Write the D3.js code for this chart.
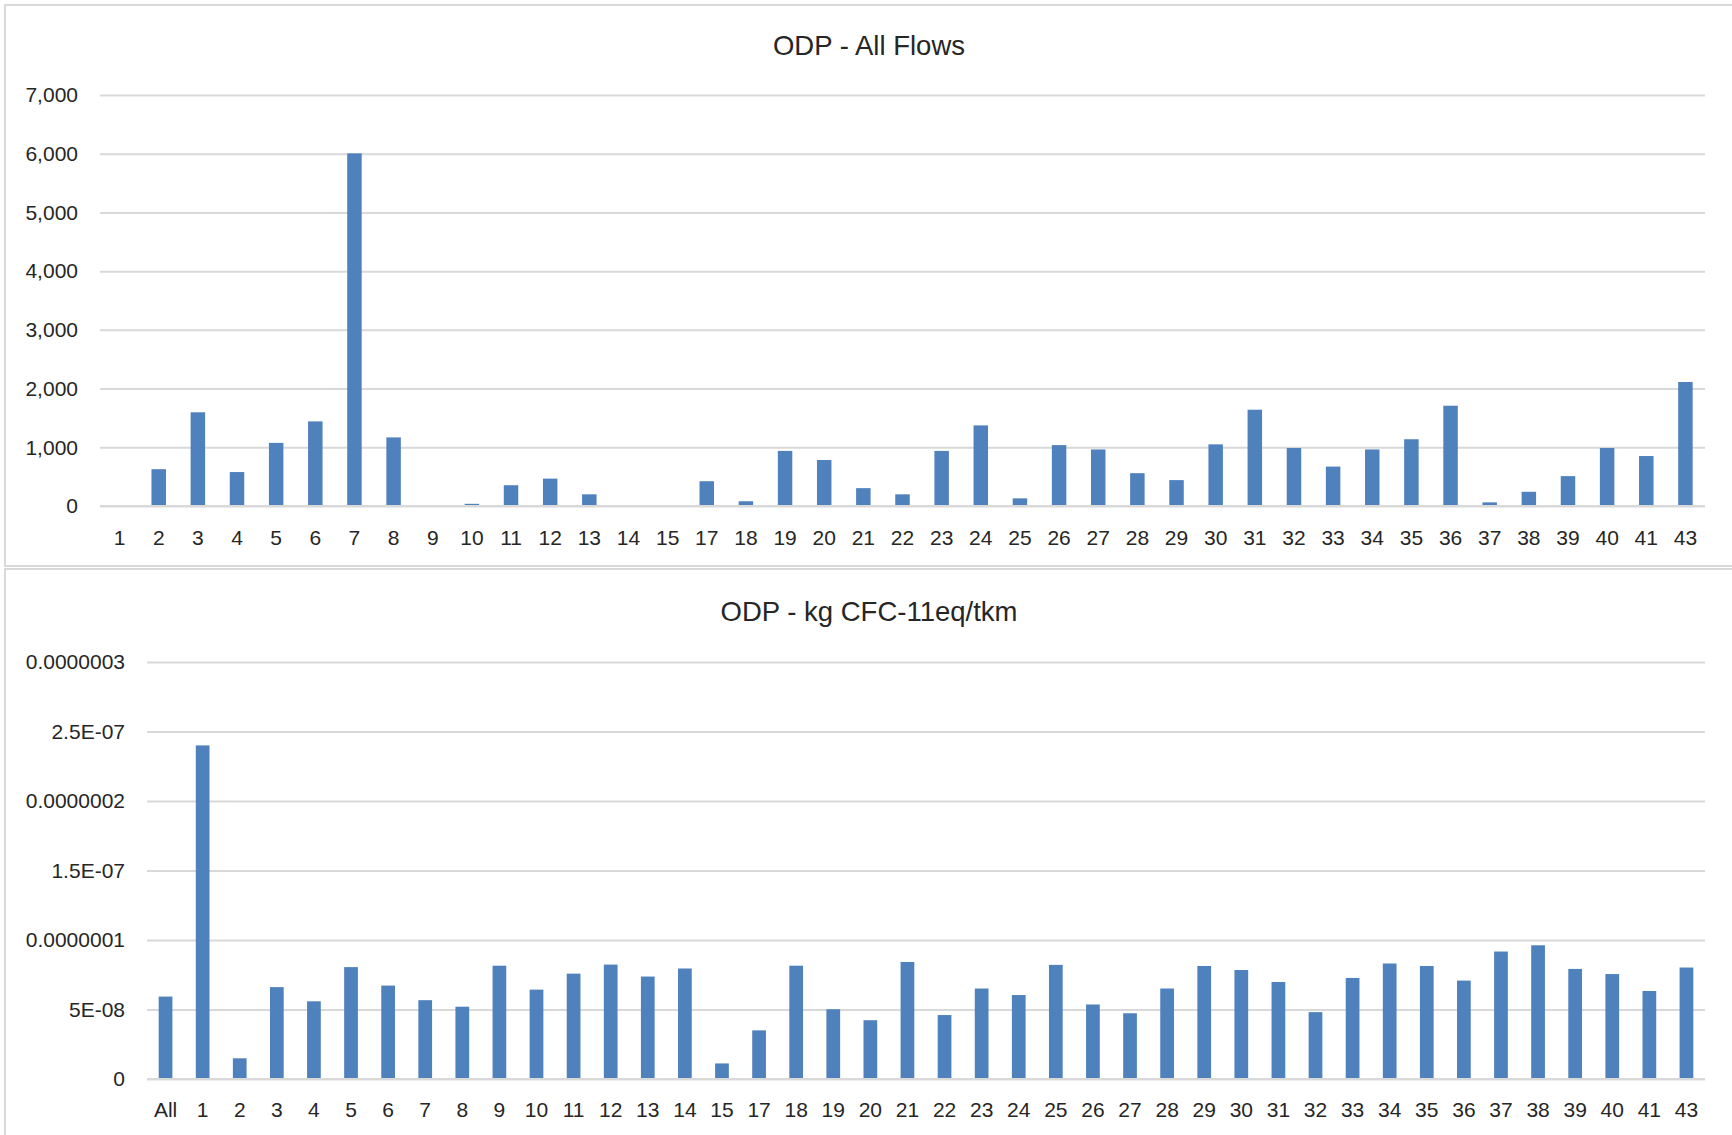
<!DOCTYPE html>
<html>
<head>
<meta charset="utf-8">
<script src="https://cdn.jsdelivr.net/npm/d3@7"></script>
<style>
  html, body { margin: 0; padding: 0; background: #fff; }
  svg { display: block; }
  text { font-family: "Liberation Sans", Arial, sans-serif; fill: #262626; }
</style>
</head>
<body>
<svg id="chart" width="1732" height="1135"></svg>
<script>
// ---- Data ----
const topCategories = ["1","2","3","4","5","6","7","8","9","10","11","12","13","14","15","17","18","19","20","21","22","23","24","25","26","27","28","29","30","31","32","33","34","35","36","37","38","39","40","41","43"];
const topValues = [0,627,1596,578,1075,1441,6006,1168,0,37,354,466,199,0,0,422,81,938,783,304,199,938,1373,130,1037,963,559,441,1050,1640,988,671,963,1137,1708,62,242,509,988,851,2112];
const topTicks = [0,1000,2000,3000,4000,5000,6000,7000];
const topTickLabels = ["0","1,000","2,000","3,000","4,000","5,000","6,000","7,000"];
const topTitle = "ODP - All Flows";

const bottomCategories = ["All","1","2","3","4","5","6","7","8","9","10","11","12","13","14","15","17","18","19","20","21","22","23","24","25","26","27","28","29","30","31","32","33","34","35","36","37","38","39","40","41","43"];
const bottomValues = [5.93e-8,2.40e-7,1.49e-8,6.61e-8,5.59e-8,8.05e-8,6.72e-8,5.67e-8,5.20e-8,8.15e-8,6.43e-8,7.58e-8,8.23e-8,7.37e-8,7.95e-8,1.12e-8,3.50e-8,8.15e-8,5.02e-8,4.23e-8,8.42e-8,4.60e-8,6.51e-8,6.04e-8,8.21e-8,5.36e-8,4.73e-8,6.51e-8,8.13e-8,7.84e-8,6.98e-8,4.81e-8,7.27e-8,8.31e-8,8.13e-8,7.08e-8,9.17e-8,9.62e-8,7.92e-8,7.55e-8,6.33e-8,8.02e-8];
const bottomTicks = [0,5e-8,1e-7,1.5e-7,2e-7,2.5e-7,3e-7];
const bottomTickLabels = ["0","5E-08","0.0000001","1.5E-07","0.0000002","2.5E-07","0.0000003"];
const bottomTitle = "ODP - kg CFC-11eq/tkm";

const svg = d3.select("#chart");
const barColor = "#4f81bd";
const gridColor = "#d9d9d9";

function drawPanel(cfg) {
  const g = svg.append("g");
  // frame
  g.append("rect")
    .attr("x", cfg.frame[0]).attr("y", cfg.frame[1])
    .attr("width", cfg.frame[2]).attr("height", cfg.frame[3])
    .attr("fill", "#fff").attr("stroke", gridColor).attr("stroke-width", 2);

  const x = d3.scaleBand().domain(cfg.categories)
    .range([cfg.left, cfg.right]).paddingInner(0.63).paddingOuter(0.315);
  const y = d3.scaleLinear().domain([0, cfg.ticks[cfg.ticks.length - 1]])
    .range([cfg.bottom, cfg.top]);

  // gridlines
  const yAxis = d3.axisLeft(y).tickValues(cfg.ticks)
    .tickSize(-(cfg.right - cfg.left))
    .tickFormat((d, i) => cfg.tickLabels[i]).tickPadding(cfg.tickPad);
  const ya = g.append("g").attr("transform", `translate(${cfg.left},0)`).call(yAxis);
  ya.select(".domain").remove();
  ya.selectAll(".tick line").attr("stroke", gridColor).attr("stroke-width", 2);
  ya.selectAll(".tick text").attr("font-size", 21).attr("fill", "#262626")
    .style("font-family", '"Liberation Sans", Arial, sans-serif');

  // bars
  g.append("g").selectAll("rect").data(cfg.values).join("rect")
    .attr("x", (d, i) => x(cfg.categories[i]))
    .attr("width", x.bandwidth())
    .attr("y", d => y(d))
    .attr("height", d => y(0) - y(d))
    .attr("fill", barColor);

  // baseline redraw over bars
  g.append("line").attr("x1", cfg.left).attr("x2", cfg.right)
    .attr("y1", y(0)).attr("y2", y(0)).attr("stroke", gridColor).attr("stroke-width", 2);

  // x labels
  const xAxis = d3.axisBottom(x).tickSize(0).tickPadding(cfg.xPad);
  const xa = g.append("g").attr("transform", `translate(0,${cfg.bottom})`).call(xAxis);
  xa.select(".domain").remove();
  xa.selectAll(".tick text").attr("font-size", 21).attr("fill", "#262626")
    .style("font-family", '"Liberation Sans", Arial, sans-serif');

  // title
  g.append("text").attr("x", cfg.titleX).attr("y", cfg.titleY)
    .attr("text-anchor", "middle").attr("font-size", 27.5).attr("fill", "#1a1a1a")
    .text(cfg.title);
}

drawPanel({
  frame: [5, 5, 1740, 561],
  categories: topCategories, values: topValues,
  ticks: topTicks, tickLabels: topTickLabels, title: topTitle,
  left: 100, right: 1705, top: 95, bottom: 506,
  tickPad: 22, xPad: 24, titleX: 869, titleY: 55
});

drawPanel({
  frame: [5, 569, 1740, 580],
  categories: bottomCategories, values: bottomValues,
  ticks: bottomTicks, tickLabels: bottomTickLabels, title: bottomTitle,
  left: 147, right: 1705, top: 662, bottom: 1079,
  tickPad: 22, xPad: 23, titleX: 869, titleY: 621
});
</script>
</body>
</html>
